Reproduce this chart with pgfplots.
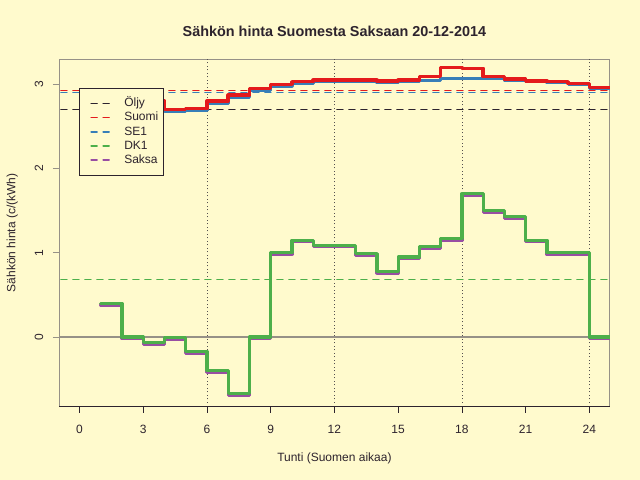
\documentclass[border=0pt]{standalone}
\usepackage{pgfplots}
\pgfplotsset{compat=1.18}
\usepackage{fontspec}
\setmainfont{Liberation Sans}
\definecolor{bg}{RGB}{255,250,205}
\definecolor{cred}{RGB}{228,26,28}
\definecolor{cblue}{RGB}{55,126,184}
\definecolor{cgreen}{RGB}{77,175,74}
\definecolor{cpurple}{RGB}{152,78,163}
\definecolor{cdark}{RGB}{45,35,45}
\definecolor{cbox}{RGB}{150,145,135}
\definecolor{cgrid}{RGB}{85,80,80}

\pgfplotstableread{
x suomi se1
1 2.85 2.83
2 2.82 2.80
3 2.80 2.78
4 2.70 2.68
5 2.71 2.69
6 2.80 2.77
7 2.87 2.85
8 2.95 2.93
9 3.00 2.98
10 3.03 3.01
11 3.05 3.03
12 3.05 3.03
13 3.05 3.03
14 3.04 3.02
15 3.05 3.03
16 3.09 3.04
17 3.20 3.07
18 3.19 3.07
19 3.09 3.07
20 3.06 3.05
21 3.04 3.03
22 3.03 3.02
23 3.01 3.00
24 2.96 2.95
25 2.96 2.95
}\toptable

\pgfplotstableread{
x dk1 saksa
1 0.40 0.38
2 0.00 -0.02
3 -0.07 -0.09
4 -0.01 -0.03
5 -0.17 -0.19
6 -0.40 -0.42
7 -0.67 -0.69
8 0.00 -0.02
9 1.00 0.98
10 1.15 1.13
11 1.09 1.07
12 1.09 1.07
13 0.99 0.97
14 0.78 0.76
15 0.95 0.93
16 1.07 1.05
17 1.17 1.15
18 1.70 1.68
19 1.50 1.48
20 1.43 1.41
21 1.15 1.13
22 1.00 0.98
23 1.00 0.98
24 0.00 -0.02
25 0.00 -0.02
}\bottable

\begin{document}
\begin{tikzpicture}
\fill[bg] (0,0) rectangle (640bp,480bp);
\useasboundingbox (0,0) rectangle (640bp,480bp);
\begin{axis}[
  at={(59bp,73.5bp)}, anchor=south west,
  scale only axis, width=550.8bp, height=347.5bp,
  xmin=-0.96, xmax=24.96, ymin=-0.825, ymax=3.30,
  axis background/.style={fill=bg},
  axis line style={draw=cbox, line width=0.8bp},
  xtick={0,3,...,24}, ytick={0,1,2,3},
  xtick pos=bottom, ytick pos=left,
  tick align=outside, major tick length=6bp,
  xtick style={draw=cdark, line width=0.8bp},
  ytick style={draw=cbox, line width=0.8bp},
  ticklabel style={font=\fontsize{12bp}{14bp}\selectfont, text=cdark},
  /pgf/number format/assume math mode=true,
  xticklabel style={anchor=center, yshift=-17bp},
  yticklabel style={rotate=90, anchor=center, yshift=14bp},
  extra x ticks={6,12,18,24},
  extra x tick labels={},
  extra x tick style={grid=major, major tick length=0pt},
  major grid style={draw=cgrid, line width=0.8bp, dash pattern=on 1bp off 2.5bp},
  title={Sähkön hinta Suomesta Saksaan 20-12-2014},
  title style={at={(axis description cs:0.5,1.063)}, anchor=center,
    font=\fontsize{14.4bp}{16bp}\selectfont\bfseries, text=cdark},
  xlabel={Tunti (Suomen aikaa)},
  xlabel style={at={(axis description cs:0.5,-0.150)}, anchor=center,
    font=\fontsize{12bp}{14bp}\selectfont, text=cdark},
  ylabel={Sähkön hinta (c/(kWh)},
  ylabel style={at={(axis description cs:-0.085,0.5)}, anchor=center,
    font=\fontsize{12bp}{14bp}\selectfont, text=cdark},
  legend style={at={(axis description cs:0.0369,0.9157)}, anchor=north west,
    draw=cdark, line width=0.8bp, fill=bg, inner xsep=5.6bp, inner ysep=9bp,
    row sep=2.7bp, column sep=14.4bp,
    font=\fontsize{12bp}{14bp}\selectfont,
    nodes={inner sep=0pt, text height=9bp, text depth=2.5bp, text=cdark},
    cells={anchor=west}},
  legend image code/.code={\path (-4.4bp,0bp); \draw[#1, line width=1.5bp, line cap=round, dash pattern=on 6bp off 6bp] (1bp,0bp) -- (19bp,0bp);},
  after end axis/.code={\draw[cdark, line width=0.8bp] (rel axis cs:0,0) -- (rel axis cs:1,0);},
  clip=true,
]
\addlegendimage{draw=cdark}
\addlegendentry{Öljy}
\addlegendimage{draw=cred}
\addlegendentry{Suomi}
\addlegendimage{draw=cblue}
\addlegendentry{SE1}
\addlegendimage{draw=cgreen}
\addlegendentry{DK1}
\addlegendimage{draw=cpurple}
\addlegendentry{Saksa}

\addplot[draw=cdark, line width=1.5bp, line cap=round, dash pattern=on 6bp off 6bp, forget plot] coordinates {(-2,2.70) (27,2.70)};
\addplot[draw=cred, line width=1.5bp, line cap=round, dash pattern=on 6bp off 6bp, forget plot] coordinates {(-2,2.925) (27,2.925)};
\addplot[draw=cblue, line width=1.5bp, line cap=round, dash pattern=on 6bp off 6bp, forget plot] coordinates {(-2,2.905) (27,2.905)};
\addplot[draw=cgreen, line width=1.5bp, line cap=round, dash pattern=on 6bp off 6bp, forget plot] coordinates {(-2,0.68) (27,0.68)};

\addplot[draw=cbox, line width=1.2bp, forget plot] coordinates {(-2,0) (27,0)};

\addplot[const plot, draw=cblue, line width=3.2bp, line join=round, line cap=round, forget plot] table[x=x, y=se1] {\toptable};
\addplot[const plot, draw=cred, line width=3.5bp, line join=round, line cap=round, forget plot] table[x=x, y=suomi] {\toptable};
\addplot[const plot, draw=cpurple, line width=3.2bp, line join=round, line cap=round, forget plot] table[x=x, y=saksa] {\bottable};
\addplot[const plot, draw=cgreen, line width=3.2bp, line join=round, line cap=round, forget plot] table[x=x, y=dk1] {\bottable};
\end{axis}
\end{tikzpicture}
\end{document}
